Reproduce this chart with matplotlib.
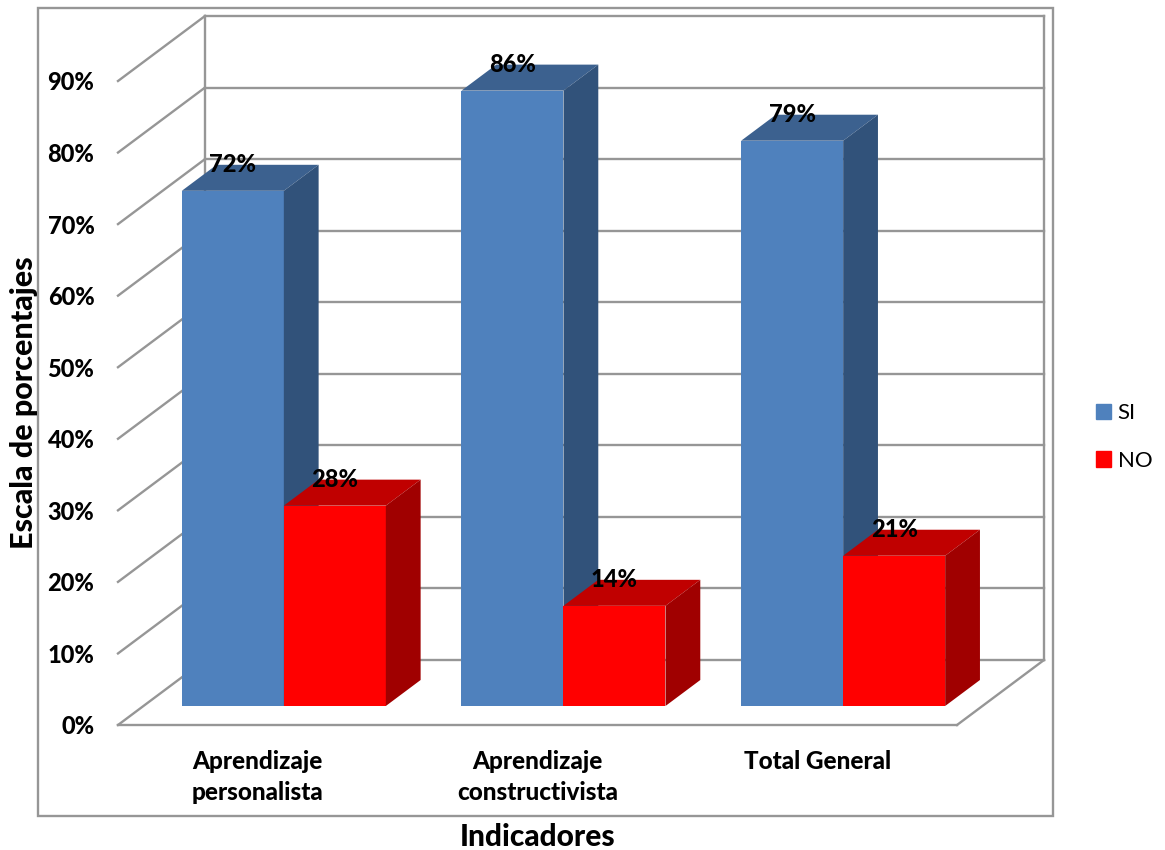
import matplotlib
matplotlib.use("Agg")
import matplotlib.pyplot as plt
from matplotlib.patches import Polygon, Patch, Rectangle

plt.rcParams['font.family'] = ['Lato', 'DejaVu Sans']

categories = ["Aprendizaje\npersonalista", "Aprendizaje\nconstructivista", "Total General"]
si_values = [72, 86, 79]
no_values = [28, 14, 21]
y_ticks = [0, 10, 20, 30, 40, 50, 60, 70, 80, 90]

W, H = 1165, 850
GRID = "#969696"
FACES_SI = ("#4F81BD", "#3C618F", "#31527A")
FACES_NO = ("#FF0000", "#C00000", "#A00000")
HEAVY = 900

fig = plt.figure(figsize=(W / 100, H / 100), dpi=100, facecolor="white")
# axes rectangle is the front plane of the 3D box
x0, x1, y0, y1 = 118, 957, 725, 81
ax = fig.add_axes([x0 / W, 1 - y0 / H, (x1 - x0) / W, (y0 - y1) / H])
ax.set_xlim(0, 3)
ax.set_ylim(0, 90)
ax.patch.set_visible(False)
for s in ax.spines.values():
    s.set_visible(False)

# oblique projection: full box depth expressed in data units
DEPTH_X = 87 / ((x1 - x0) / 3)
DEPTH_Y = 65 / ((y0 - y1) / 90)


def proj(x, v, d):
    return (x + d * DEPTH_X, v + d * DEPTH_Y)


def seg(a, b, **kw):
    ax.plot([a[0], b[0]], [a[1], b[1]], color=GRID, lw=1.7, clip_on=False,
            solid_capstyle="projecting", zorder=1, **kw)


# walls, floor and gridlines
for t in y_ticks:
    seg(proj(0, t, 0), proj(0, t, 1))
    seg(proj(0, t, 1), proj(3, t, 1))
seg(proj(0, 0, 1), proj(0, 90, 1))
seg(proj(3, 0, 1), proj(3, 90, 1))
seg(proj(0, 0, 0), proj(3, 0, 0))
seg(proj(3, 0, 0), proj(3, 0, 1))

BAR_W = 102 / ((x1 - x0) / 3)
D_FRONT = 19 / 65
D_BACK = 45 / 65


def bar(left, value, faces, z):
    right = left + BAR_W
    quads = [
        ([(left, 0, D_FRONT), (right, 0, D_FRONT), (right, value, D_FRONT), (left, value, D_FRONT)], faces[0]),
        ([(left, value, D_FRONT), (right, value, D_FRONT), (right, value, D_BACK), (left, value, D_BACK)], faces[1]),
        ([(right, 0, D_FRONT), (right, 0, D_BACK), (right, value, D_BACK), (right, value, D_FRONT)], faces[2]),
    ]
    for q, c in quads:
        ax.add_patch(Polygon([proj(*p) for p in q], closed=True, facecolor=c,
                             edgecolor="none", clip_on=False, zorder=z))
    cx, cy = proj(left + BAR_W / 2, value, D_FRONT)
    ax.annotate(f"{value}%", (cx, cy), xytext=(0, 18.8), textcoords="offset points",
                ha="center", va="center", fontsize=17, fontweight=HEAVY,
                color="black", zorder=10, annotation_clip=False)


for i, (s, n) in enumerate(zip(si_values, no_values)):
    start = i + (1 - 2 * BAR_W) / 2 + 0.002
    bar(start, s, FACES_SI, 3 + i)
    bar(start + BAR_W, n, FACES_NO, 3.5 + i)

ax.set_yticks(y_ticks)
ax.set_yticklabels([f"{t}%" for t in y_ticks], fontsize=17, fontweight=HEAVY)
ax.set_xticks([0.5, 1.5, 2.5])
ax.set_xticklabels(categories, fontsize=17.5, fontweight=HEAVY, linespacing=1.4, va="top")
ax.tick_params(axis="y", length=0, pad=17)
ax.tick_params(axis="x", length=0, pad=18)

fig.text(538 / W, 1 - 837 / H, "Indicadores", ha="center", va="center",
         fontsize=21.5, fontweight=HEAVY)
fig.text(24 / W, 1 - 403 / H, "Escala de porcentajes", rotation=90, ha="center",
         va="center", fontsize=22, fontweight=HEAVY)

# outer chart frame
fig.add_artist(Rectangle((38 / W, 1 - 816 / H), (1053 - 38) / W, (816 - 8) / H,
                         transform=fig.transFigure, fill=False, edgecolor=GRID, lw=1.7))

fig.legend(handles=[Patch(color=FACES_SI[0], label="SI"), Patch(color=FACES_NO[0], label="NO")],
           loc="center left", bbox_to_anchor=(1076 / W, 1 - 437 / H), frameon=False,
           fontsize=16, handlelength=0.68, handleheight=0.68, handletextpad=0.3,
           labelspacing=1.25)

fig.savefig("out.png", dpi=100, facecolor="white")
